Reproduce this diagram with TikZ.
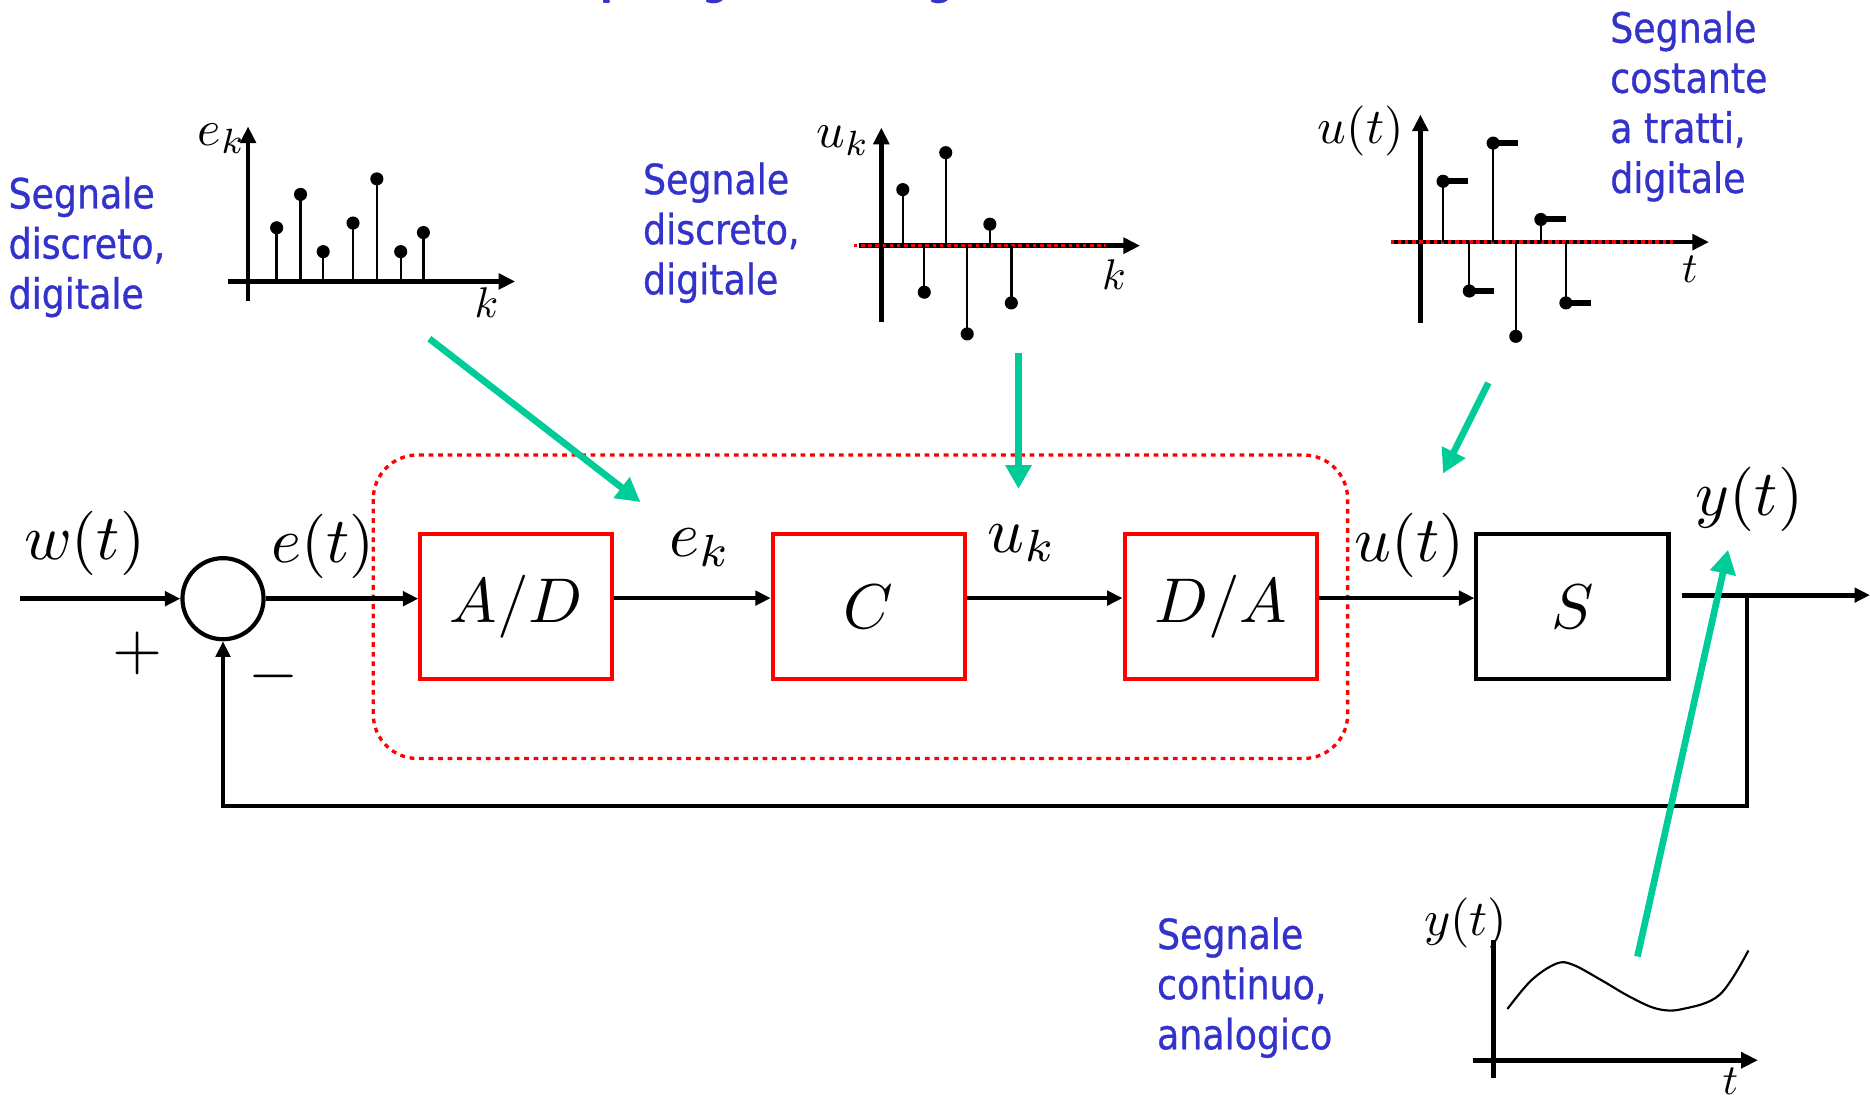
\documentclass[tikz,border=0pt]{standalone}
\usepackage{fontspec}
\usepackage{graphicx}
\newfontfamily\sgfont{DejaVu Sans}[FakeStretch=0.87,FakeBold=0.8]
\newfontfamily\sgtitle{DejaVu Sans Bold}[FakeStretch=0.87]
\usetikzlibrary{arrows.meta}
\definecolor{sgblue}{RGB}{51,51,204}
\definecolor{sggreen}{RGB}{0,204,153}
\newcommand{\boxmath}[1]{\scalebox{5.3}{$#1$}}
\begin{document}
\begin{tikzpicture}[x=1pt,y=-1pt,
  blk/.style={draw=red, line width=3.4pt, minimum width=161pt, minimum height=121pt, inner sep=0pt},
  sbox/.style={blk, draw=black},
  main/.style={line width=4pt, -{Triangle[length=13pt,width=12pt]}},
  fbline/.style={line width=3.6pt, -{Triangle[length=13pt,width=12pt]}},
  lab/.style={font=\normalsize, scale=5.4, inner sep=0pt},
  plab/.style={font=\normalsize, scale=4.2, inner sep=0pt},
  klab/.style={font=\normalsize, scale=3.6, inner sep=0pt},
  note/.style={font=\sgfont\fontsize{35}{42}\selectfont, text=sgblue, align=left, inner sep=0pt, anchor=north west},
  ttl/.style={font=\sgtitle\fontsize{36}{40}\selectfont, text=sgblue, inner sep=0pt},
  gar/.style={draw=sggreen, line width=5.6pt, -{Triangle[length=20pt,width=21pt]}, color=sggreen},
  axis/.style={line width=4pt, -{Triangle[length=14pt,width=13pt]}},
  stem/.style={line width=2pt},
  rdot/.style={draw=red, line width=2.8pt, dash pattern=on 3pt off 3pt},
  bar/.style={line width=5pt}
]
\useasboundingbox (0,0) rectangle (1568,919);

% title descenders (cut off at top)
\node[ttl, anchor=base west] (tp) at (503,-5) {p};
\node[ttl, anchor=base] (tg1) at (600,-5) {g};
\node[ttl, anchor=base] (tg2) at (789,-5) {g};

% dotted digital region
\draw[red, line width=2.8pt, dash pattern=on 4pt off 4pt, rounded corners=37pt] (313,381.5) rectangle (1130,636);

% blocks
\node[circle, draw, line width=3.5pt, minimum size=68pt, inner sep=0pt] (sum) at (187,502) {};
\node[blk] (AD) at (433,508.5) {\boxmath{A/D}};
\node[blk] (C) at (728.5,508.5) {\boxmath{C}};
\node[blk] (DA) at (1023.5,508.5) {\boxmath{D/A}};
\node[sbox] (S) at (1318.5,508.5) {\boxmath{S}};

% labels
\node[lab, anchor=base] (lw) at (71,469) {$w(t)$};
\node[lab, anchor=base] (le) at (271,472) {$e(t)$};
\node[lab, anchor=base] (lek) at (587,467) {$e_k$};
\node[lab, anchor=base] (luk) at (857,463) {$u_k$};
\node[lab, anchor=base] (lut) at (1182,471) {$u(t)$};
\node[lab, anchor=base] (lyt) at (1467,432) {$y(t)$};
\node[lab] (plus) at (115,548) {$+$};
\node[lab] (minus) at (229,567) {$-$};

% connectors
\coordinate (win) at (17,502);
\draw[main] (win) -- (sum.west);
\draw[main] (sum.east) -- (sum.east -| AD.west);
\draw[main] ([yshift=7pt]AD.east) -- ([yshift=7pt]C.west);
\draw[main] ([yshift=7pt]C.east) -- ([yshift=7pt]DA.west);
\draw[main] ([yshift=7pt]DA.east) -- ([yshift=7pt]S.west);
\coordinate (sout) at (1410,499);
\coordinate (yend) at (1568,499);
\draw[main] (sout) -- (yend);
\coordinate (fb) at (1465,499);
\coordinate (fbc) at (1465,676);
\draw[fbline] (fb) -- (fbc) -| (sum.south);

% plot 1: e_k
\draw[axis] (208,252) -- (208,106);
\draw[axis] (191,236) -- (432,236);
\foreach \x/\y in {232/191,252/163,271/211,296/187,316/150,336/211,355/195}{
  \draw[stem] (\x,236) -- (\x,\y);
  \fill (\x,\y) circle (5.5pt);
}
\node[plab, anchor=base] (p1y) at (186,122) {$e_k$};
\node[klab, anchor=base] (p1x) at (408,266) {$k$};
\node[note] (n1) at (7,148) {Segnale\\discreto,\\digitale};

% plot 2: u_k
\draw[axis] (739,270) -- (739,107);
\draw[axis] (720,206) -- (956,206);
\draw[rdot] (716,206) -- (927,206);
\foreach \x/\y in {757/159,775/245,793/128,811/280,830/188,848/254}{
  \draw[stem] (\x,206) -- (\x,\y);
  \fill (\x,\y) circle (5.5pt);
}
\node[plab, anchor=base] (p2y) at (707,124) {$u_k$};
\node[klab, anchor=base] (p2x) at (934,243) {$k$};
\node[note] (n2) at (539,136) {Segnale\\discreto,\\digitale};

% plot 3: u(t)
\draw[axis] (1191,271) -- (1191,96);
\draw[axis] (1168,203) -- (1433,203);
\draw[rdot] (1166,203) -- (1403,203);
\foreach \x/\y in {1210/152,1232/244,1252/120,1271/282,1292/184,1313/254}{
  \draw[stem] (\x,203) -- (\x,\y);
  \fill (\x,\y) circle (5.5pt);
}
\foreach \x/\y in {1210/152,1232/244,1252/120,1292/184,1313/254}{
  \draw[bar] (\x,\y) -- (\x+21,\y);
}
\node[plab, anchor=base] (p3y) at (1141,120) {$u(t)$};
\node[klab, anchor=base] (p3x) at (1417,237) {$t$};
\node[note] (n3) at (1350,9) {Segnale\\costante\\a tratti,\\digitale};

% plot 4: y(t)
\draw[line width=4pt] (1252,788) -- (1252,904);
\draw[axis] (1235,889) -- (1474,889);
\draw[line width=1.8pt] plot[smooth, tension=0.6] coordinates {(1264,846) (1284,822) (1305,808) (1319,809) (1343,822) (1367,836) (1390,846) (1411,846) (1442,834) (1466,797)};
\node[plab, anchor=base] (p4y) at (1229,784) {$y(t)$};
\node[klab, anchor=base] (p4x) at (1451,918) {$t$};
\node[note] (n4) at (970,769) {Segnale\\continuo,\\analogico};

% green pointers
\coordinate (g1a) at (360,284); \coordinate (g1b) at (537,421);
\coordinate (g2a) at (854,296); \coordinate (g2b) at (854,410);
\coordinate (g3a) at (1248,321); \coordinate (g3b) at (1210,397);
\coordinate (g4a) at (1373,802); \coordinate (g4b) at (1449,461);
\draw[gar] (g1a) -- (g1b);
\draw[gar] (g2a) -- (g2b);
\draw[gar] (g3a) -- (g3b);
\draw[gar] (g4a) -- (g4b);
\end{tikzpicture}
\end{document}
